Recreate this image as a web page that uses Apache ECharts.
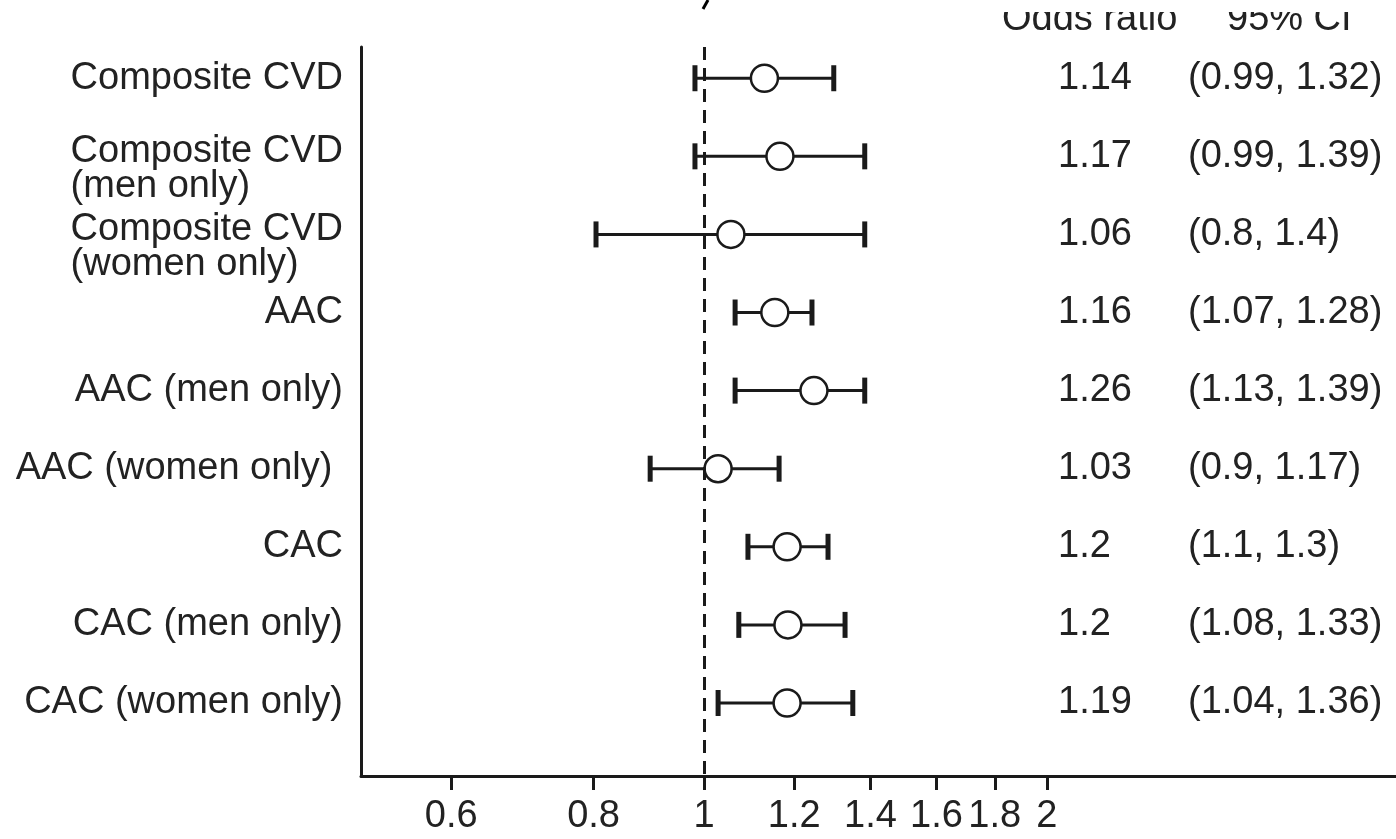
<!DOCTYPE html>
<html><head><meta charset="utf-8">
<script src="https://cdn.jsdelivr.net/npm/echarts@6/dist/echarts.min.js"></script>
<style>html,body{margin:0;padding:0;background:#fff;} #main{width:1396px;height:839px;}</style>
</head><body><div id="main"></div>
<script>
const categories = ['Composite CVD', 'Composite CVD\n(men only)', 'Composite CVD\n(women only)', 'AAC', 'AAC (men only)', 'AAC (women only) ', 'CAC', 'CAC (men only)', 'CAC (women only)'];
const oddsRatio = [1.13, 1.166, 1.056, 1.154, 1.249, 1.029, 1.183, 1.185, 1.183];
const ciLow = [0.982, 0.982, 0.804, 1.065, 1.065, 0.897, 1.093, 1.073, 1.029];
const ciHigh = [1.30, 1.384, 1.384, 1.244, 1.384, 1.164, 1.285, 1.33, 1.351];
const orText = ['1.14', '1.17', '1.06', '1.16', '1.26', '1.03', '1.2', '1.2', '1.19'];
const ciText = ['(0.99, 1.32)', '(0.99, 1.39)', '(0.8, 1.4)', '(1.07, 1.28)', '(1.13, 1.39)', '(0.9, 1.17)', '(1.1, 1.3)', '(1.08, 1.33)', '(1.04, 1.36)'];
const xTickValues = [0.6, 0.8, 1, 1.2, 1.4, 1.6, 1.8, 2];
const xTickLabels = ['0.6', '0.8', '1', '1.2', '1.4', '1.6', '1.8', '2'];
const headerOR = 'Odds ratio';
const headerCI = '95% CI';
const refValue = 1;

const FONT = '"Liberation Sans", Arial, sans-serif';
const INK = '#1a1a1a';
const TXT = '#222';
const rowIdx = categories.map((c, i) => i);

const chart = echarts.init(document.getElementById('main'), null, {renderer: 'canvas'});

const yBase = {
  type: 'value', inverse: true, min: -0.4, max: 8.935,
  splitLine: {show: false}, axisTick: {show: false}
};

function rowLabel(v) {
  const lines = categories[Math.round(v)].split('\n');
  const body = lines.map(s => '{a|' + s + '}').join('\n');
  return lines.length > 1 ? '{p| }\n' + body : body;
}

chart.setOption({
  animation: false,
  backgroundColor: '#fff',
  grid: {left: 361, top: 47, right: 0, bottom: 63, containLabel: false},
  xAxis: {
    type: 'log', logBase: 10, min: 0.5, max: 4.05,
    axisLine: {show: true, onZero: false, lineStyle: {color: INK, width: 3}},
    axisTick: {show: true, inside: false, length: 14, lineStyle: {color: INK, width: 3}, customValues: xTickValues},
    axisLabel: {
      customValues: xTickValues, margin: 22, fontSize: 38, fontFamily: FONT, color: TXT,
      formatter: v => xTickLabels[xTickValues.findIndex(t => Math.abs(t - v) < 1e-6)] ?? ''
    },
    splitLine: {show: false}, minorTick: {show: false}
  },
  yAxis: [
    Object.assign({}, yBase, {
      position: 'left',
      axisLine: {show: true, onZero: false, lineStyle: {color: INK, width: 3}},
      axisLabel: {
        customValues: rowIdx, margin: 18, align: 'right',
        formatter: rowLabel,
        rich: {
          a: {fontSize: 38, lineHeight: 35, fontFamily: FONT, color: TXT, align: 'left'},
          p: {fontSize: 1, lineHeight: 25, height: 25, color: 'rgba(0,0,0,0)'}
        }
      }
    }),
    Object.assign({}, yBase, {
      position: 'right', offset: -338,
      axisLine: {show: false},
      axisLabel: {
        customValues: rowIdx, margin: 0, align: 'left', fontSize: 38, fontFamily: FONT, color: TXT,
        formatter: v => orText[Math.round(v)]
      }
    }),
    Object.assign({}, yBase, {
      position: 'right', offset: -208,
      axisLine: {show: false},
      axisLabel: {
        customValues: rowIdx, margin: 0, align: 'left', fontSize: 38, fontFamily: FONT, color: TXT,
        formatter: v => ciText[Math.round(v)]
      }
    })
  ],
  series: [
    {
      type: 'custom',
      yAxisIndex: 0,
      data: rowIdx.map(i => [i, ciLow[i], ciHigh[i]]),
      encode: {x: [1, 2], y: 0},
      z: 2,
      renderItem: (params, api) => {
        const y = api.value(0);
        const p1 = api.coord([api.value(1), y]);
        const p2 = api.coord([api.value(2), y]);
        const h = 13;
        return {type: 'group', children: [
          {type: 'line', shape: {x1: p1[0], y1: p1[1], x2: p2[0], y2: p2[1]}, style: {stroke: INK, lineWidth: 3}},
          {type: 'line', shape: {x1: p1[0], y1: p1[1] - h, x2: p1[0], y2: p1[1] + h}, style: {stroke: INK, lineWidth: 5}},
          {type: 'line', shape: {x1: p2[0], y1: p2[1] - h, x2: p2[0], y2: p2[1] + h}, style: {stroke: INK, lineWidth: 5}}
        ]};
      }
    },
    {
      type: 'scatter',
      yAxisIndex: 0,
      data: rowIdx.map(i => [oddsRatio[i], i]),
      symbol: 'circle', symbolSize: 27, z: 3,
      itemStyle: {color: '#fff', borderColor: INK, borderWidth: 2.5, opacity: 1},
      markLine: {
        silent: true, symbol: 'none', label: {show: false},
        lineStyle: {type: [13, 8], width: 3, color: INK},
        data: [{xAxis: refValue}]
      }
    }
  ],
  graphic: [
    {type: 'text', x: 1002, y: 20, style: {text: headerOR, fontSize: 38, fontFamily: FONT, fill: TXT, verticalAlign: 'middle'}, z: 10},
    {type: 'text', x: 1227, y: 20, style: {text: headerCI, fontSize: 38, fontFamily: FONT, fill: TXT, verticalAlign: 'middle'}, z: 10},
    {type: 'rect', shape: {x: 990, y: 0, width: 406, height: 12}, style: {fill: '#fff'}, z: 11},
    {type: 'line', shape: {x1: 708, y1: 0, x2: 703, y2: 9}, style: {stroke: '#000', lineWidth: 3}, z: 11}
  ]
});
</script></body></html>
